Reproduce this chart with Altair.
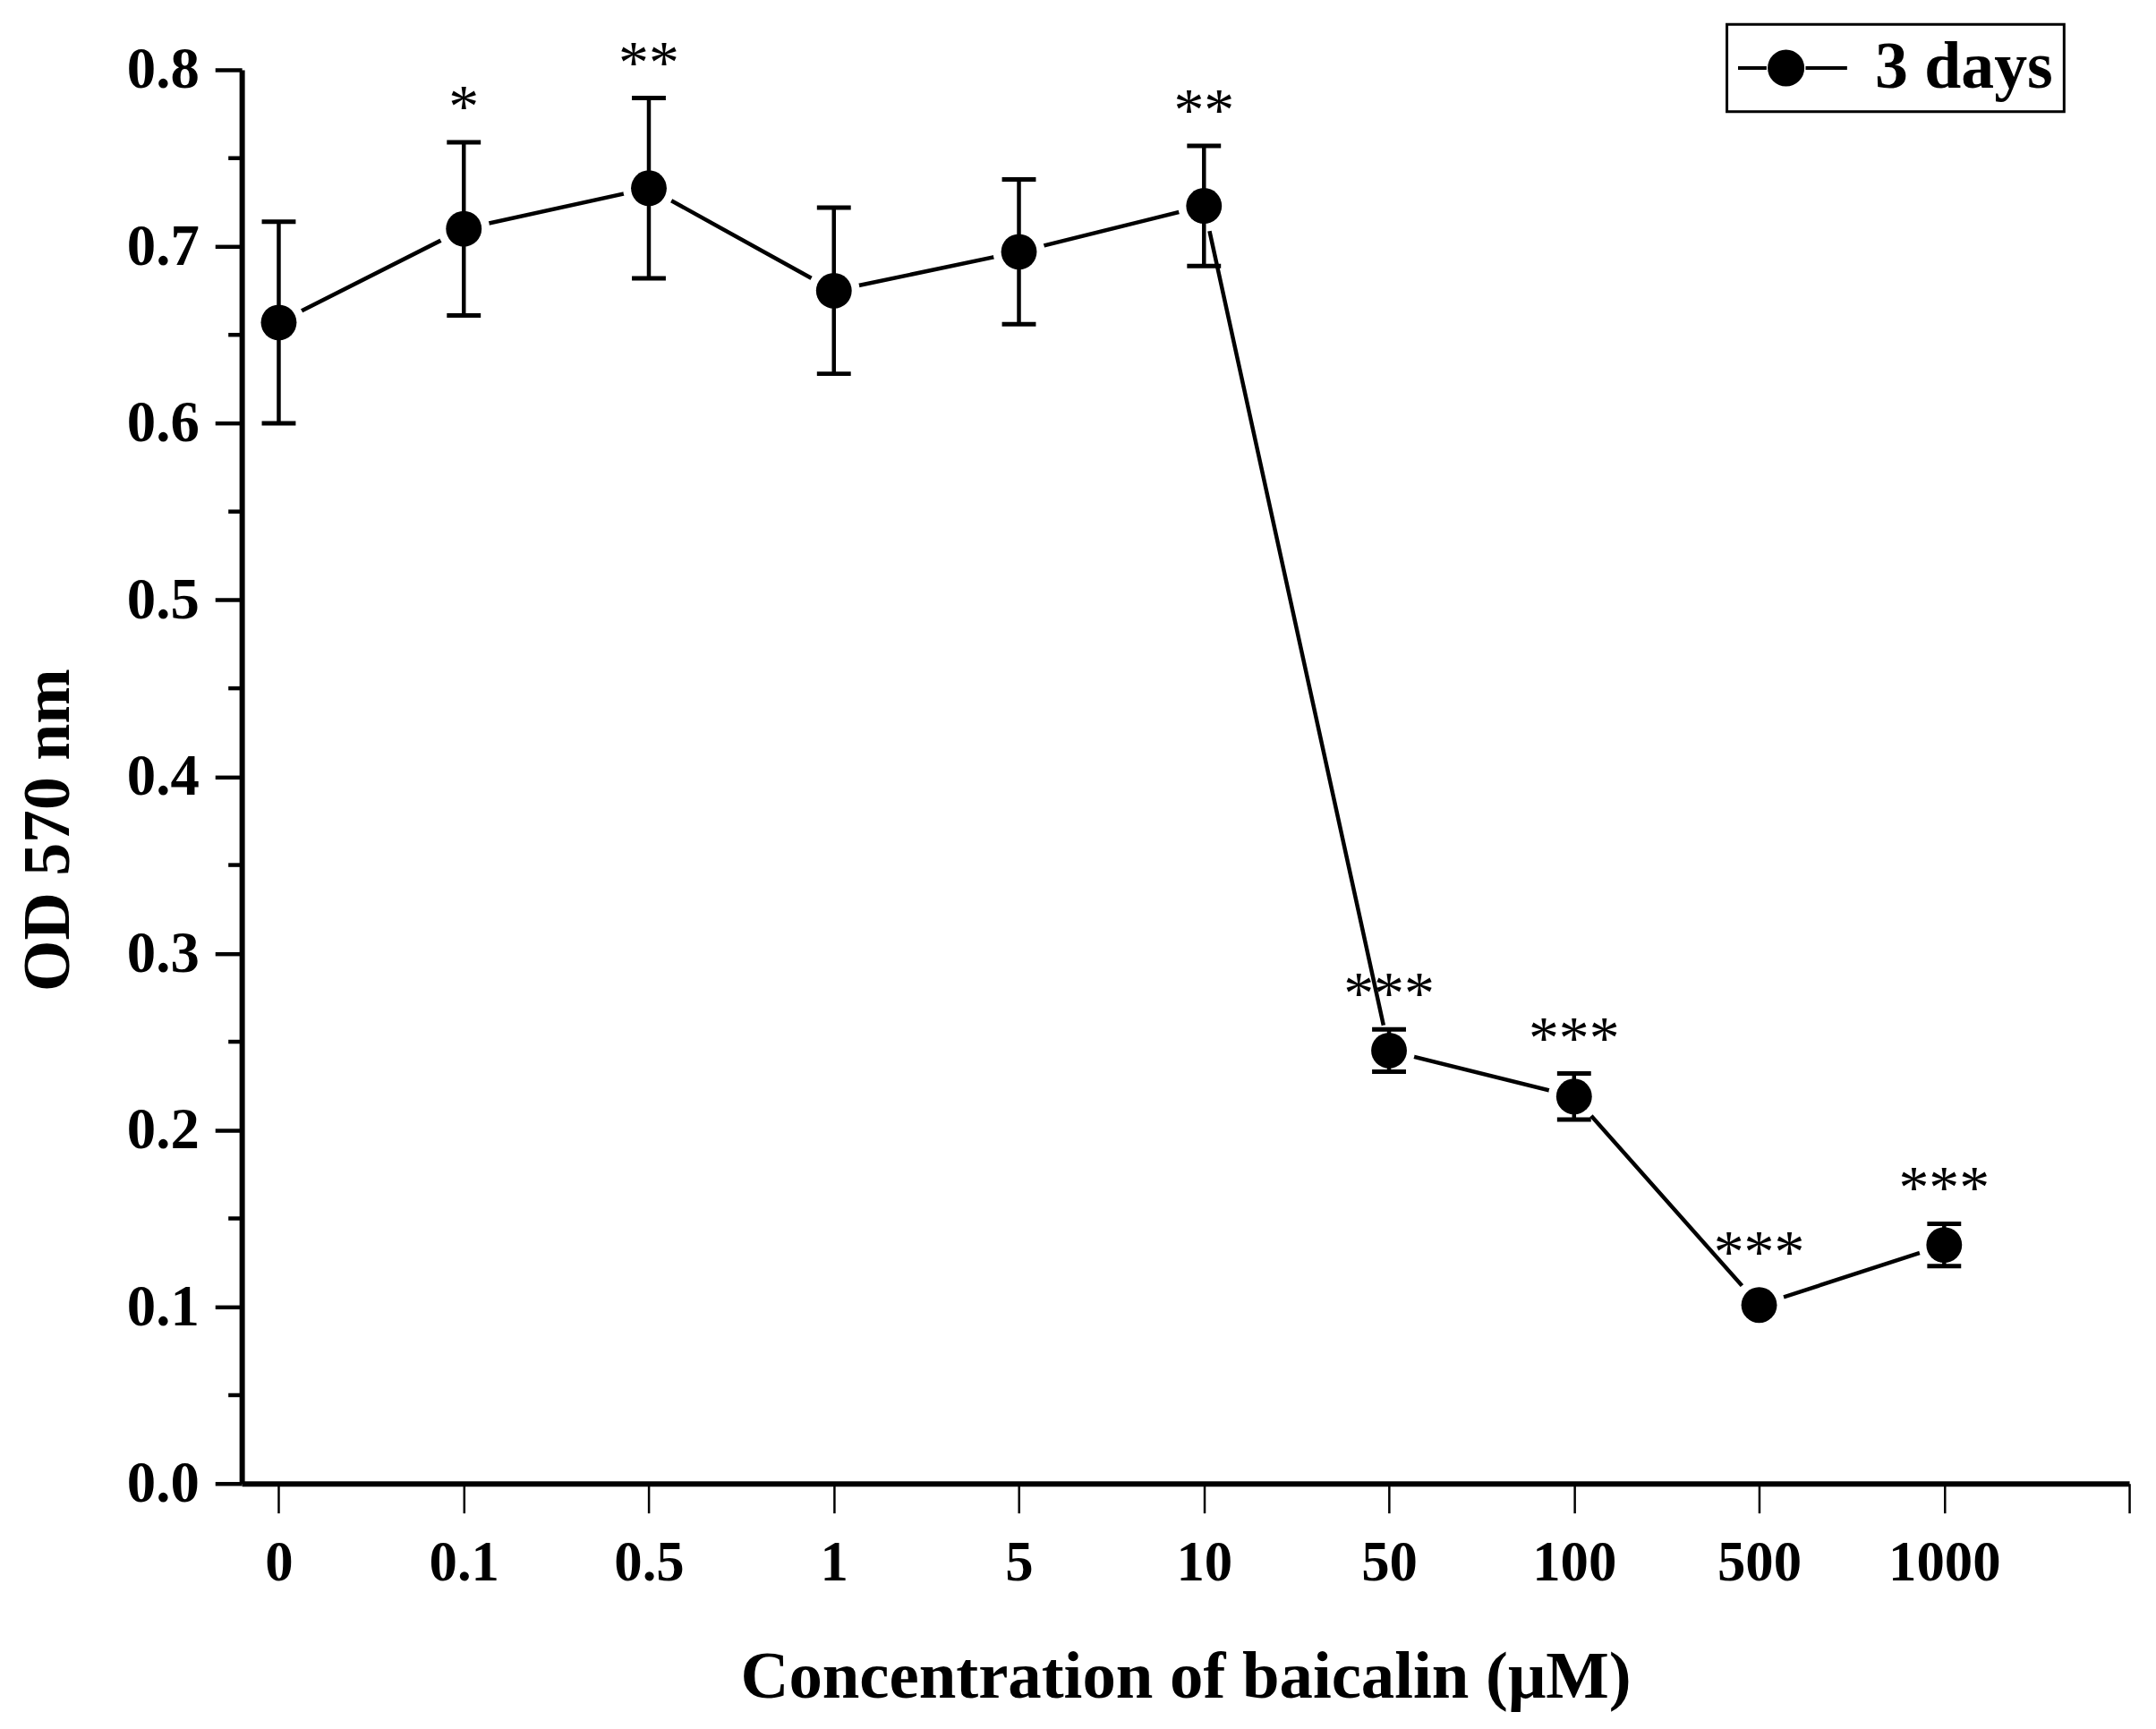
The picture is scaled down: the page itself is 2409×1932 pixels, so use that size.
import json
import altair as alt
import pandas as pd

# ---- data ----
conc_labels = ["0", "0.1", "0.5", "1", "5", "10", "50", "100", "500", "1000"]
od_mean = [0.657, 0.710, 0.733, 0.675, 0.697, 0.723, 0.245, 0.219, 0.101, 0.135]
od_sd = [0.057, 0.049, 0.051, 0.047, 0.041, 0.034, 0.012, 0.013, 0.0, 0.012]
stars = ["", "*", "**", "", "", "**", "***", "***", "***", "***"]
y_major = [0.0, 0.1, 0.2, 0.3, 0.4, 0.5, 0.6, 0.7, 0.8]
y_minor = [0.05, 0.15, 0.25, 0.35, 0.45, 0.55, 0.65, 0.75]
series_name = "3 days"
x_title = "Concentration of baicalin (μM)"
y_title = "OD 570 nm"

df = pd.DataFrame({
    "idx": list(range(len(conc_labels))),
    "conc": conc_labels,
    "mean": od_mean,
    "sd": od_sd,
    "star": stars,
})
df["lo"] = df["mean"] - df["sd"]
df["hi"] = df["mean"] + df["sd"]
df["star_y"] = [max(h, m + 0.010) for h, m in zip(df["hi"], df["mean"])]
df["series"] = series_name

minor_df = pd.DataFrame({"v": y_minor})

FONT = "Liberation Serif"
xscale = alt.Scale(domain=[-0.2, 10], nice=False, zero=False)
yscale = alt.Scale(domain=[0, 0.8], nice=False, zero=False)

label_expr = "datum.value < 10 ? " + json.dumps(conc_labels) + "[datum.value] : ''"

x_axis = alt.Axis(
    values=list(range(11)), labelExpr=label_expr, title=x_title, grid=False,
    tickSize=33, tickWidth=2.5, tickColor="black", domainWidth=6, domainColor="black",
    labelFont=FONT, labelFontSize=63, labelFontWeight="bold", labelColor="black",
    labelPadding=25, labelFlush=False, labelOverlap=False,
    titleFont=FONT, titleFontSize=75, titleFontWeight="bold", titleColor="black",
    titleY=240, titleBaseline="alphabetic",
)
y_axis = alt.Axis(
    values=y_major, format=".1f", title=y_title, grid=False,
    tickSize=30, tickWidth=4.5, tickColor="black", domainWidth=6, domainColor="black",
    labelFont=FONT, labelFontSize=65, labelFontWeight="bold", labelColor="black",
    labelPadding=18, labelFlush=False,
    titleFont=FONT, titleFontSize=74, titleFontWeight="bold", titleColor="black",
    titleX=-194, titleY=852, titleAngle=270, titleAlign="center", titleBaseline="alphabetic",
)

base = alt.Chart(df)
X = alt.X("idx:Q", scale=xscale, axis=x_axis)
Xn = alt.X("idx:Q", scale=xscale)

MSIZE = 1600
line = base.mark_line(color="black", strokeWidth=4.5).encode(
    x=X, y=alt.Y("mean:Q", scale=yscale, axis=y_axis)
)
halo = base.mark_point(filled=True, shape="circle", size=MSIZE, fill="black",
                       stroke="white", strokeWidth=18, opacity=1).encode(
    x=Xn, y=alt.Y("mean:Q", scale=yscale)
)
err = base.mark_rule(color="black", strokeWidth=4.5).encode(
    x=Xn, y=alt.Y("lo:Q", scale=yscale), y2="hi:Q"
)
cap_lo = base.mark_tick(orient="horizontal", size=38, thickness=5, color="black", opacity=1).encode(
    x=Xn, y=alt.Y("lo:Q", scale=yscale)
)
cap_hi = base.mark_tick(orient="horizontal", size=38, thickness=5, color="black", opacity=1).encode(
    x=Xn, y=alt.Y("hi:Q", scale=yscale)
)
# legend glyph: line - dot - line
symbol_path = ("M-1.044,0H-0.13M1.12,0H2.449"
               "M1.024,0A0.531,0.531,0,1,1,-0.038,0A0.531,0.531,0,1,1,1.024,0Z")
points = base.mark_point(filled=True, shape="circle", size=MSIZE, opacity=1).encode(
    x=Xn, y=alt.Y("mean:Q", scale=yscale),
    color=alt.Color("series:N", scale=alt.Scale(range=["black"]),
                    legend=alt.Legend(
                        title=None, orient="none", legendX=1665, legendY=-51,
                        symbolType=symbol_path, symbolSize=4900,
                        symbolStrokeWidth=4, symbolStrokeColor="black", symbolFillColor="black",
                        labelFont=FONT, labelFontSize=74, labelFontWeight="bold",
                        labelColor="black", labelOffset=80, labelLimit=500, padding=12,
                        strokeColor="black",
                    )),
)
star_text = base.mark_text(font=FONT, fontSize=68, baseline="alphabetic", align="center",
                           dy=-18, color="black").encode(
    x=Xn, y=alt.Y("star_y:Q", scale=yscale), text="star:N"
)
minor = alt.Chart(minor_df).mark_rule(color="black", strokeWidth=4.5).encode(
    y=alt.Y("v:Q", scale=yscale), x=alt.value(-15), x2=alt.value(0)
)

chart = alt.layer(line, halo, err, cap_lo, cap_hi, points, star_text, minor).properties(
    width=2116, height=1585,
    autosize=alt.AutoSizeParams(type="none"),
    padding={"left": 263, "top": 67, "right": 22, "bottom": 272},
    background="white",
).configure_view(stroke=None).configure_legend(strokeWidth=3)

chart.save("out.html", embed_options={"renderer": "svg", "actions": False})
